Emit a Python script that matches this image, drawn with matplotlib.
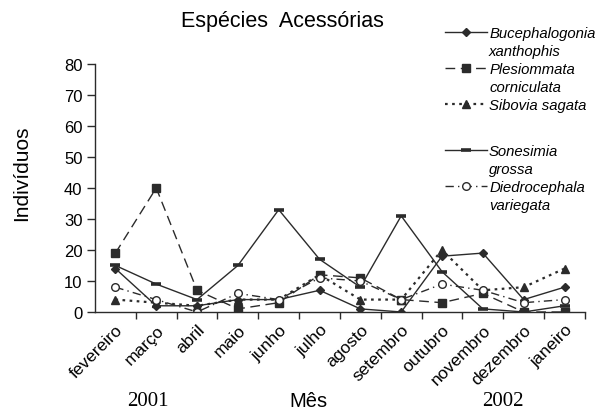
import matplotlib
matplotlib.use("Agg")
import matplotlib.pyplot as plt
from matplotlib.lines import Line2D

# dados
meses = ['fevereiro', 'março', 'abril', 'maio', 'junho', 'julho',
         'agosto', 'setembro', 'outubro', 'novembro', 'dezembro', 'janeiro']
bucephalogonia = [14, 2, 2, 4, 4, 7, 1, 0, 18, 19, 4, 8]
plesiommata = [19, 40, 7, 1, 3, 12, 11, 4, 3, 6, 0, 0]
sibovia = [4, 3, 2, 4, 4, 12, 4, 4, 20, 7, 8, 14]
sonesimia = [15, 9, 4, 15, 33, 17, 8, 31, 13, 1, 0, 2]
diedrocephala = [8, 4, 0, 6, 4, 11, 10, 4, 9, 7, 3, 4]

plt.rcParams['font.family'] = ['Liberation Sans', 'DejaVu Sans']
cor = '#2b2b2b'

fig = plt.figure(figsize=(5.96, 4.14), dpi=100)
ax = fig.add_axes([0.1594, 0.244, 0.822, 0.599])
x = list(range(len(meses)))

h1, = ax.plot(x, bucephalogonia, color=cor, lw=1, ls='-', marker='D', ms=4.5)
h2, = ax.plot(x, plesiommata, color=cor, lw=1, ls=(0, (7, 4)), marker='s', ms=5.8)
h3, = ax.plot(x, sibovia, color=cor, lw=1.6, ls=(0, (1.2, 2)), marker='^', ms=5.5)
h4, = ax.plot(x, sonesimia, color=cor, lw=1, ls='-', marker='_', ms=6.5, mew=2.6)
h5, = ax.plot(x, diedrocephala, color=cor, lw=1, ls=(0, (6, 3, 1, 3)), marker='o',
              ms=5.5, mfc='white', mew=1)

ax.set_xlim(-0.5, len(meses) - 0.5)
ax.set_ylim(0, 80)
ax.set_yticks(range(0, 81, 10))
ax.set_xticks(x)
ax.set_xticklabels(meses, rotation=45, ha='right', rotation_mode='anchor', fontsize=12.5)
ax.set_xticks([i + 0.5 for i in x], minor=True)
ax.tick_params(axis='x', which='major', length=0, pad=7)
ax.tick_params(axis='x', which='minor', length=5, width=1, color=cor)
ax.tick_params(axis='y', length=6, width=1, color=cor, labelsize=12, pad=3)
for s in ['top', 'right']:
    ax.spines[s].set_visible(False)
for s in ['left', 'bottom']:
    ax.spines[s].set_color(cor)
    ax.spines[s].set_linewidth(1)

fig.text(0.474, 0.947, 'Espécies  Acessórias', ha='center', va='center', fontsize=15.5)
fig.text(0.036, 0.582, 'Indivíduos', rotation=90, ha='center', va='center', fontsize=15)
fig.text(0.517, 0.029, 'Mês', ha='center', va='center', fontsize=14.5)
fig.text(0.248, 0.029, '2001', ha='center', va='center', fontsize=15, family='Liberation Serif')
fig.text(0.843, 0.029, '2002', ha='center', va='center', fontsize=15, family='Liberation Serif')

vazio = Line2D([], [], color='none')
handles = [h1, vazio, h2, vazio, h3, vazio, h4, vazio, h5, vazio]
labels = ['Bucephalogonia', 'xanthophis', 'Plesiommata', 'corniculata',
          'Sibovia sagata', ' ', 'Sonesimia', 'grossa', 'Diedrocephala', 'variegata']
leg = fig.legend(handles, labels, loc='upper left', bbox_to_anchor=(0.747, 0.935),
                 frameon=False, prop={'style': 'italic', 'size': 10.7},
                 handlelength=2.8, handletextpad=0.15, labelspacing=0.27,
                 borderpad=0, borderaxespad=0)
leg.get_texts()[5].set_fontsize(19)

fig.savefig('out.png', dpi=100)
